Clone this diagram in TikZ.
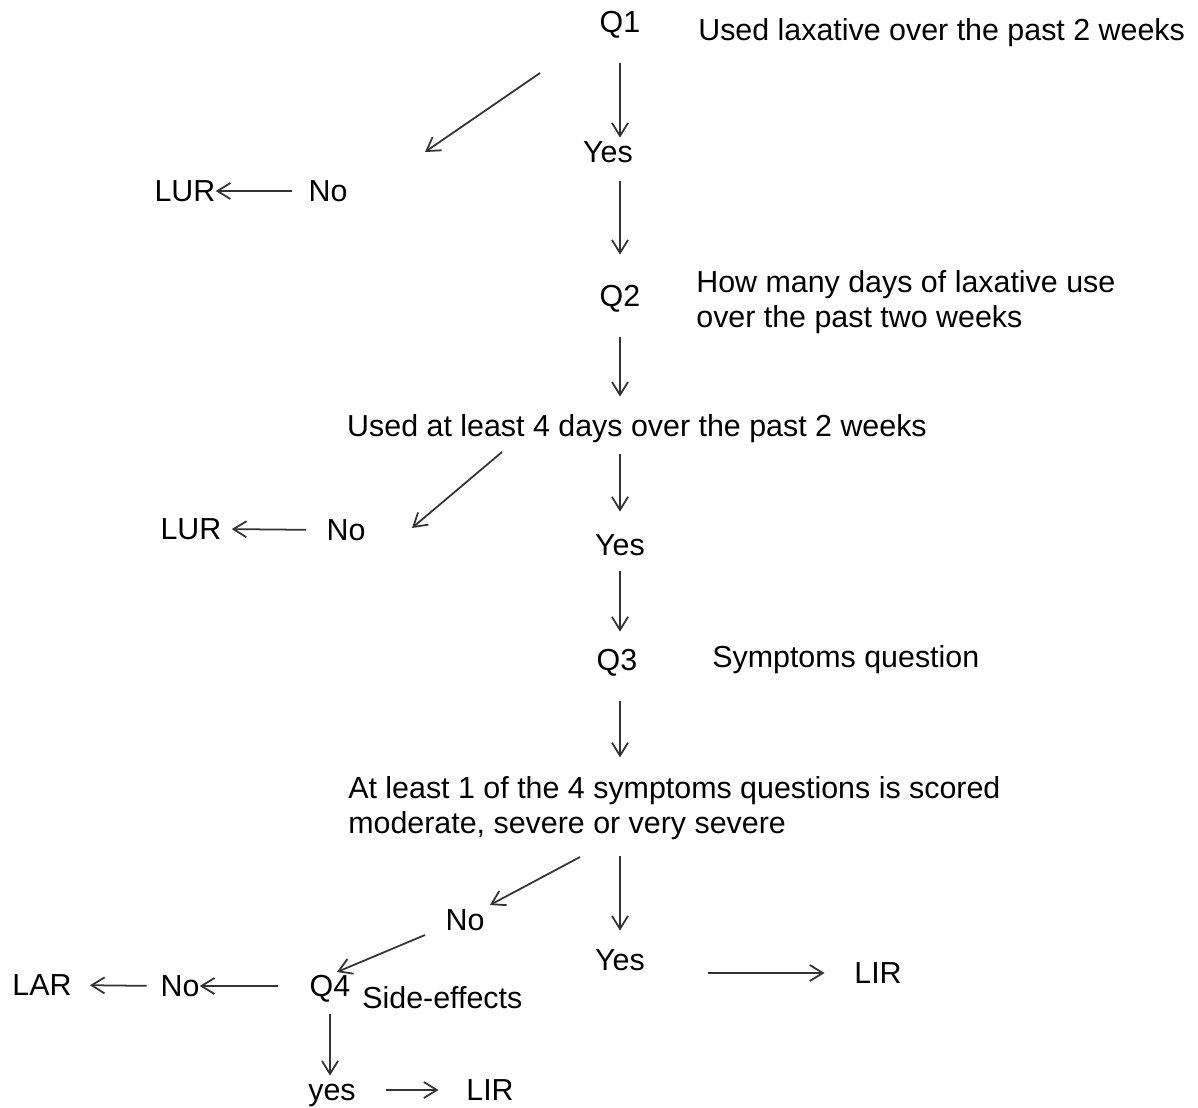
\documentclass[tikz,border=0pt]{standalone}
\usepackage{fontspec}
\setmainfont{Liberation Sans}
\usetikzlibrary{arrows.meta}

\begin{document}
\fontsize{17.3}{19.5}\selectfont
\begin{tikzpicture}[
    x=0.02cm, y=-0.02cm,
    lbl/.style={inner sep=0pt, text height=1.5ex, text depth=.25ex},
    note/.style={inner sep=0pt, anchor=west, align=left},
    arrow/.style={-{Straight Barb[length=0.26cm,width=0.32cm]}, line width=1pt, black!80}
]
\useasboundingbox (0,0) rectangle (1198,1107);

\node[lbl] (q1) at (620,22) {Q1};
\node[note] (q1txt) at (698,33) {Used laxative over the past 2 weeks};
\node[lbl] (yes1) at (608,152) {Yes};
\node[lbl] (no1) at (328,191) {No};
\node[lbl] (lur1) at (185,191) {LUR};
\node[lbl] (q2) at (620,296) {Q2};
\node[note] (q2txt) at (696,302) {How many days of laxative use\\over the past two weeks};
\node[lbl] (used4) at (637,426) {Used at least 4 days over the past 2 weeks};
\node[lbl] (no2) at (346,530) {No};
\node[lbl] (lur2) at (191,529) {LUR};
\node[lbl] (yes2) at (620,545) {Yes};
\node[lbl] (q3) at (617,660) {Q3};
\node[note] (q3txt) at (712,660) {Symptoms question};
\node[note] (atleast) at (348,808) {At least 1 of the 4 symptoms questions is scored\\moderate, severe or very severe};
\node[lbl] (no3) at (465,920) {No};
\node[lbl] (yes3) at (620,960) {Yes};
\node[lbl] (lir1) at (878,973) {LIR};
\node[lbl] (q4) at (330,986) {Q4};
\node[note] (q4txt) at (362,998) {Side-effects};
\node[lbl] (no4) at (180,986) {No};
\node[lbl] (lar) at (42,985) {LAR};
\node[lbl] (yes4) at (332,1090) {yes};
\node[lbl] (lir2) at (490,1090) {LIR};

% free ends of the slanted arrows
\coordinate (d1s) at (540,73);
\coordinate (d1e) at (425,152);
\coordinate (d2s) at (502,452);
\coordinate (d2e) at (412,528);
\coordinate (d3s) at (580,857);
\coordinate (d3e) at (490,905);
\coordinate (d4s) at (425,935);
\coordinate (d4e) at (337,972);

\draw[arrow, shorten <=0.54cm] (q1.south) -- (q1.south |- yes1.north);
\draw[arrow] (d1s) -- (d1e);
\draw[arrow, shorten <=0.33cm] (no1.west) -- (lur1.east);
\draw[arrow, shorten <=0.3cm, shorten >=0.54cm] (yes1.south -| q2) -- (q2.north);
\draw[arrow, shorten <=0.54cm, shorten >=0.3cm] (q2.south) -- (q2.south |- used4.north);
\draw[arrow] (d2s) -- (d2e);
\draw[arrow, shorten <=0.4cm, shorten >=0.2cm] (no2.west) -- (lur2.east);
\draw[arrow, shorten <=0.28cm, shorten >=0.38cm] (yes2 |- used4.south) -- (yes2.north);
\draw[arrow, shorten <=0.24cm, shorten >=0.28cm] (yes2.south) -- (yes2.south |- q3.north);
\draw[arrow, shorten <=0.54cm, shorten >=0.38cm] (yes2 |- q3.south) -- (yes2 |- atleast.north);
\draw[arrow] (d3s) -- (d3e);
\draw[arrow, shorten <=0.32cm, shorten >=0.3cm] (yes3 |- atleast.south) -- (yes3.north);
\draw[arrow] (d4s) -- (d4e);
\draw[arrow, shorten <=1.26cm, shorten >=0.59cm] (lir1 -| yes3.east) -- (lir1.west);
\draw[arrow, shorten <=0.62cm] (q4.west) -- (no4.east);
\draw[arrow, shorten <=0.27cm, shorten >=0.36cm] (no4.west) -- (lar.east);
\draw[arrow, shorten <=0.28cm] (q4.south) -- (q4.south |- yes4.north);
\draw[arrow, shorten <=0.6cm, shorten >=0.55cm] (yes4.east) -- (lir2.west);
\end{tikzpicture}
\end{document}
